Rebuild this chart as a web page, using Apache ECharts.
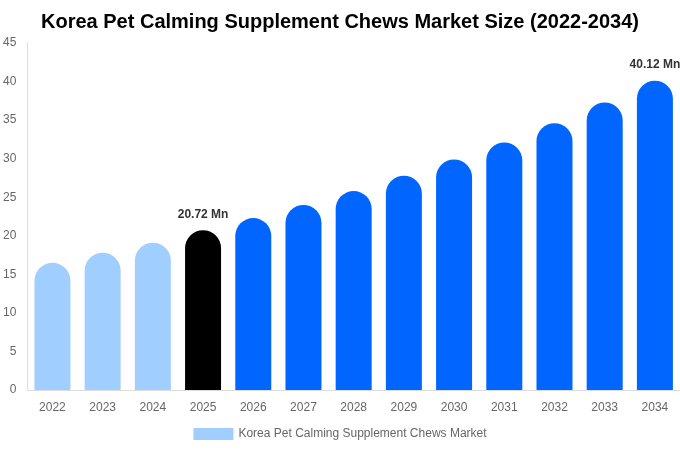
<!DOCTYPE html>
<html>
<head>
<meta charset="utf-8">
<script src="https://cdn.jsdelivr.net/npm/echarts@6/dist/echarts.min.js"></script>
<style>
  html, body { margin: 0; padding: 0; background: #fff; }
  #main { width: 680px; height: 450px; }
</style>
</head>
<body>
<div id="main"></div>
<script>
var years = ['2022', '2023', '2024', '2025', '2026', '2027', '2028', '2029', '2030', '2031', '2032', '2033', '2034'];
var marketSize = [16.5, 17.8, 19.1, 20.72, 22.3, 24.0, 25.8, 27.8, 29.9, 32.1, 34.6, 37.3, 40.12];
var labelled = { '2025': '20.72 Mn', '2034': '40.12 Mn' };

// 历史 / 基准年 / 预测 三种颜色
function barColor(i) {
  if (i < 3) return '#a0cfff';
  if (i === 3) return '#000000';
  return '#0066ff';
}

var chart = echarts.init(document.getElementById('main'));

var option = {
  backgroundColor: '#fff',
  textStyle: { fontFamily: 'Arial, "Liberation Sans", sans-serif' },
  title: {
    text: 'Korea Pet Calming Supplement Chews Market Size (2022-2034)',
    left: 'center',
    top: 7,
    textStyle: { fontSize: 20, fontWeight: 'bold', color: '#000' }
  },
  legend: {
    bottom: 5,
    left: 'center',
    icon: 'rect',
    itemWidth: 40,
    itemHeight: 12,
    itemGap: 10,
    textStyle: { fontSize: 12, color: '#666' },
    data: [{ name: 'Korea Pet Calming Supplement Chews Market', itemStyle: { color: '#a0cfff' } }]
  },
  grid: { left: 27, right: 0, top: 43, bottom: 60, containLabel: false },
  xAxis: {
    type: 'category',
    data: years,
    axisTick: { show: false },
    axisLine: { lineStyle: { color: '#ddd' } },
    axisLabel: { color: '#666', fontSize: 12, margin: 12 }
  },
  yAxis: {
    type: 'value',
    min: 0,
    max: 45,
    interval: 5,
    splitLine: { show: false },
    axisLine: { show: true, lineStyle: { color: '#ddd' } },
    axisLabel: { color: '#666', fontSize: 12, margin: 11 }
  },
  series: [{
    name: 'Korea Pet Calming Supplement Chews Market',
    type: 'bar',
    barWidth: 36,
    data: marketSize.map(function (v, i) {
      return {
        value: v,
        itemStyle: { color: barColor(i), borderRadius: [18, 18, 0, 0] }
      };
    }),
    label: {
      show: true,
      position: 'top',
      distance: 10,
      fontSize: 12,
      fontWeight: 'bold',
      color: '#333',
      formatter: function (p) { return labelled[p.name] || ''; }
    }
  }]
};

chart.setOption(option);
</script>
</body>
</html>
